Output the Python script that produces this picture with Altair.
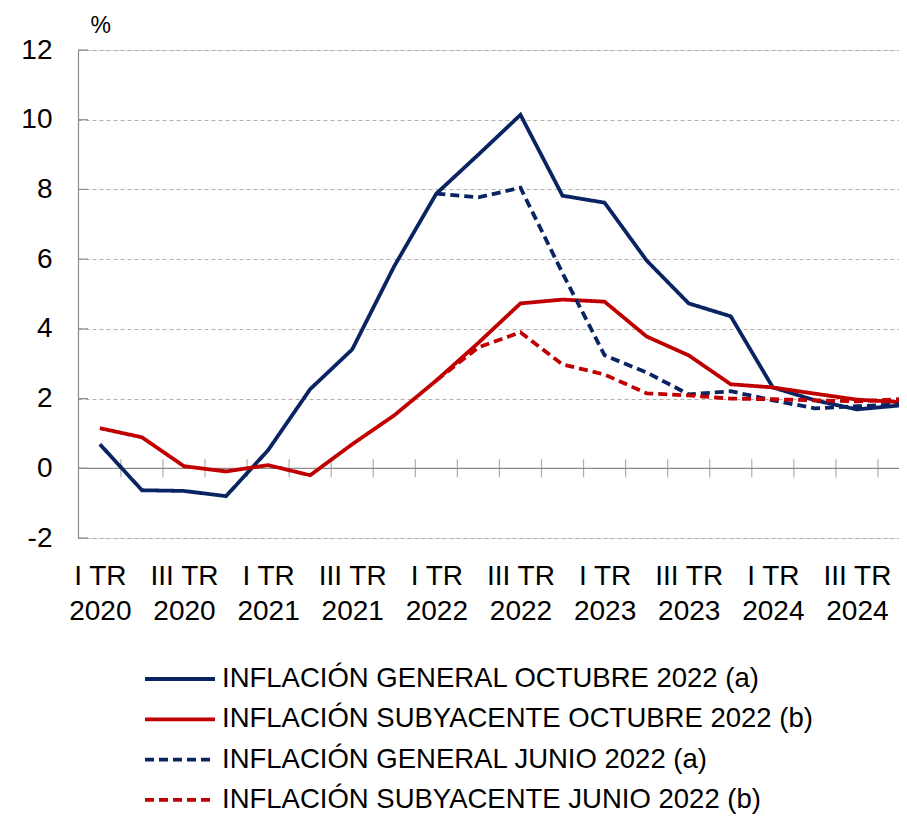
import altair as alt
import pandas as pd
import json

# ---------------- data ----------------
quarter_names = ["I TR", "II TR", "III TR", "IV TR"] * 5
quarter_years = ["2020"] * 4 + ["2021"] * 4 + ["2022"] * 4 + ["2023"] * 4 + ["2024"] * 4

general_oct = [0.69, -0.63, -0.65, -0.80, 0.52, 2.27, 3.41, 5.80, 7.88, 9.00,
               10.14, 7.82, 7.62, 5.96, 4.73, 4.36, 2.32, 1.95, 1.69, 1.80]
core_oct = [1.15, 0.89, 0.06, -0.09, 0.09, -0.20, 0.69, 1.52, 2.52, 3.60,
            4.73, 4.84, 4.78, 3.78, 3.24, 2.41, 2.32, 2.14, 1.97, 1.90]
general_jun = [None] * 8 + [7.88, 7.77, 8.05, 5.60, 3.24, 2.75, 2.12, 2.21,
                            1.95, 1.72, 1.78, 1.83]
core_jun = [None] * 8 + [2.52, 3.47, 3.90, 2.98, 2.69, 2.15, 2.09, 2.00,
                         1.98, 1.95, 1.92, 1.98]

series_names = [
    "INFLACIÓN GENERAL OCTUBRE 2022 (a)",
    "INFLACIÓN SUBYACENTE OCTUBRE 2022 (b)",
    "INFLACIÓN GENERAL JUNIO 2022 (a)",
    "INFLACIÓN SUBYACENTE JUNIO 2022 (b)",
]
series_values = [general_oct, core_oct, general_jun, core_jun]
series_colors = ["#0A2463", "#C00000", "#0A2463", "#C00000"]
series_dash = [[1, 0], [1, 0], [9, 5], [9, 5]]

y_ticks = [-2, 0, 2, 4, 6, 8, 10, 12]
x_label_positions = list(range(0, 20, 2))

# ---------------- tables ----------------
rows = []
for s_idx, (name, vals) in enumerate(zip(series_names, series_values)):
    for i, v in enumerate(vals):
        if v is not None:
            rows.append({"idx": i, "value": v, "serie": name, "ord": s_idx})
df = pd.DataFrame(rows)

boundaries = pd.DataFrame({"idx": [i + 0.5 for i in range(len(quarter_names) - 1)],
                           "value": [0] * (len(quarter_names) - 1)})
ytick_df = pd.DataFrame({"value": y_ticks})
zero_df = pd.DataFrame({"value": [0]})

FONT = "Liberation Sans"
x_scale = alt.Scale(domain=[-0.52, 19.0], nice=False, zero=False)
y_scale = alt.Scale(domain=[-2, 12], nice=False)

label_expr = "[{}[datum.value], {}[datum.value]]".format(
    json.dumps(quarter_names), json.dumps(quarter_years))

x_axis = alt.Axis(
    title=None, values=x_label_positions, labelExpr=label_expr,
    domain=False, ticks=False, grid=False,
    labelFontSize=28, labelFont=FONT, labelColor="#000000",
    labelLineHeight=35, labelPadding=24, labelFlush=False,
    labelOverlap=False, labelBaseline="top")

y_axis = alt.Axis(
    title="%", titleAngle=0, titleAlign="left", titleBaseline="alphabetic",
    titleX=12, titleY=-18, titleFontSize=23, titleFont=FONT,
    titleFontWeight="normal", titleColor="#000000",
    values=y_ticks, ticks=False, labelPadding=26,
    labelExpr="datum.value < 0 ? '-' + abs(datum.value) : '' + datum.value",
    labelFontSize=28, labelFont=FONT, labelColor="#000000",
    domain=True, domainColor="#8c8c8c", domainWidth=1.2,
    grid=True, gridColor="#b0b0b0", gridDash=[4, 3], gridWidth=1)

legend = alt.Legend(
    title=None, orient="none", legendX=65, legendY=613,
    symbolType="stroke", symbolSize=4900, symbolStrokeWidth=3.8,
    labelFontSize=27.5, labelFont=FONT, labelColor="#000000",
    clipHeight=32, rowPadding=8.3, labelOffset=5, padding=0,
    labelLimit=0, direction="vertical",
)

X = alt.X("idx:Q", scale=x_scale, axis=x_axis)
Y = alt.Y("value:Q", scale=y_scale, axis=y_axis)

lines = alt.Chart(df).mark_line(strokeWidth=3.8).encode(
    x=X, y=Y,
    color=alt.Color("serie:N", scale=alt.Scale(domain=series_names, range=series_colors),
                    legend=legend),
    strokeDash=alt.StrokeDash("serie:N", scale=alt.Scale(domain=series_names, range=series_dash),
                              legend=legend),
    order="idx:Q",
)

zero_line = alt.Chart(zero_df).mark_rule(color="#8c8c8c", strokeWidth=1.2).encode(y=Y)

bound_ticks = alt.Chart(boundaries).mark_tick(
    orient="vertical", size=18, thickness=1.2, color="#8c8c8c").encode(x=X, y=Y)

y_inner_ticks = alt.Chart(ytick_df).mark_rule(color="#8c8c8c", strokeWidth=1.2).encode(
    y=Y, x=alt.value(0), x2=alt.value(10))

chart = alt.layer(y_inner_ticks, zero_line, bound_ticks, lines).properties(
    width=821, height=488,
    autosize=alt.AutoSizeParams(type="none"),
    padding={"left": 70, "top": 42, "right": 0, "bottom": 278},
).configure_view(stroke=None).configure(background="white")

chart.save("out.html", embed_options={"renderer": "svg", "actions": False})
